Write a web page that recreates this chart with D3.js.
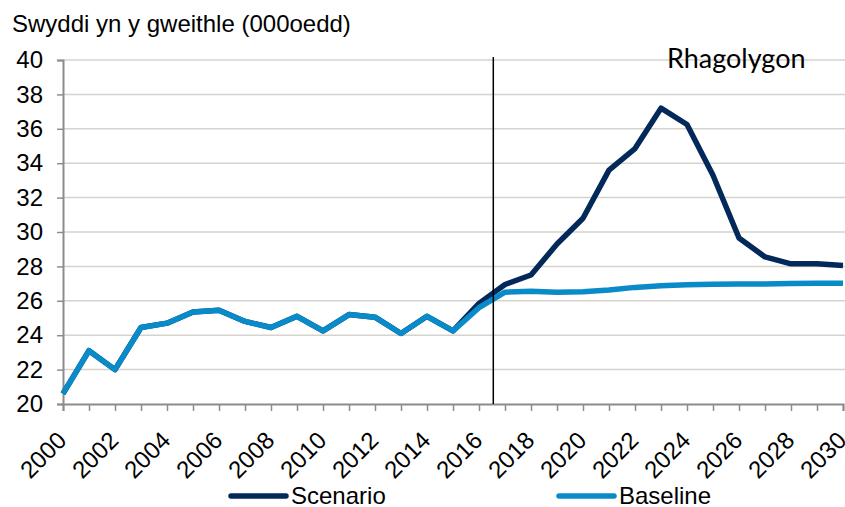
<!DOCTYPE html>
<html>
<head>
<meta charset="utf-8">
<script src="https://cdn.jsdelivr.net/npm/d3@7"></script>
<style>
  body { margin: 0; background: #fff; }
  svg { display: block; font-family: "Liberation Sans", Arial, sans-serif; }
</style>
</head>
<body>
<div id="chart"></div>
<script>
// Data (thousands of jobs)
const years = d3.range(2000, 2031);
const scenario = [20.6, 23.1, 22.0, 24.45, 24.7, 25.35, 25.45, 24.8, 24.45, 25.1,
  24.25, 25.2, 25.05, 24.1, 25.1, 24.25, 25.85, 26.95, 27.5, 29.3,
  30.8, 33.6, 34.85, 37.2, 36.25, 33.3, 29.65, 28.55, 28.15, 28.15, 28.05];
const baseline = [20.6, 23.1, 22.0, 24.45, 24.7, 25.35, 25.45, 24.8, 24.45, 25.1,
  24.25, 25.2, 25.05, 24.1, 25.1, 24.25, 25.6, 26.5, 26.55, 26.5,
  26.53, 26.63, 26.78, 26.88, 26.94, 26.96, 26.97, 26.98, 27.0, 27.02, 27.02];
const yTicks = [20, 22, 24, 26, 28, 30, 32, 34, 36, 38, 40];
const xTickLabels = d3.range(2000, 2031, 2);
const forecastStart = 2016.55;

const COLORS = { scenario: '#03295a', baseline: '#0a8bc9', grid: '#d6d3ce', axis: '#8c8c8c' };
const MARGIN = { top: 60, right: 2, bottom: 103, left: 63 };
const width = 845, height = 507;
const innerW = width - MARGIN.left - MARGIN.right;
const innerH = height - MARGIN.top - MARGIN.bottom;

const svg = d3.select('#chart').append('svg')
  .attr('width', width)
  .attr('height', height);

const g = svg.append('g')
  .attr('transform', `translate(${MARGIN.left},${MARGIN.top})`);

const x = d3.scaleLinear().domain([2000, 2030]).range([0, innerW]);
const y = d3.scaleLinear().domain([20, 40]).range([innerH, 0]);

// gridlines
g.append('g')
  .selectAll('line')
  .data(yTicks.filter(d => d > 20))
  .join('line')
  .attr('x1', 0).attr('x2', innerW + MARGIN.right)
  .attr('y1', d => y(d)).attr('y2', d => y(d))
  .attr('stroke', COLORS.grid)
  .attr('stroke-width', 1.5);

// y axis
const yAxis = g.append('g')
  .call(d3.axisLeft(y).tickValues(yTicks).tickSize(6).tickPadding(14));
yAxis.select('.domain').attr('stroke', COLORS.axis).attr('stroke-width', 2);
yAxis.selectAll('.tick line').attr('stroke', COLORS.axis).attr('stroke-width', 1.5);
yAxis.selectAll('text')
  .style('font-size', '24px')
  .style('fill', '#000');

// x axis
const xAxis = g.append('g')
  .attr('transform', `translate(0,${innerH})`)
  .call(d3.axisBottom(x).tickValues(years).tickSize(7).tickFormat(''));
xAxis.select('.domain').attr('stroke', COLORS.axis).attr('stroke-width', 2);
xAxis.selectAll('.tick line').attr('stroke', COLORS.axis).attr('stroke-width', 1.5);

g.append('g')
  .selectAll('text')
  .data(xTickLabels)
  .join('text')
  .attr('transform', d => `translate(${x(d) - 7},${innerH + 26}) rotate(-45)`)
  .attr('text-anchor', 'end')
  .attr('dy', '0.7em')
  .style('font-size', '24px')
  .style('fill', '#000')
  .text(d => d);

// lines
const line = d3.line()
  .x((d, i) => x(years[i]))
  .y(d => y(d));

g.append('path')
  .datum(scenario)
  .attr('fill', 'none')
  .attr('stroke', COLORS.scenario)
  .attr('stroke-width', 5.5)
  .attr('stroke-linejoin', 'round')
  .attr('d', line);

g.append('path')
  .datum(baseline)
  .attr('fill', 'none')
  .attr('stroke', COLORS.baseline)
  .attr('stroke-width', 5.5)
  .attr('stroke-linejoin', 'round')
  .attr('d', line);

// forecast divider
g.append('line')
  .attr('x1', x(forecastStart)).attr('x2', x(forecastStart))
  .attr('y1', -3).attr('y2', innerH)
  .attr('stroke', '#000')
  .attr('stroke-width', 1.5);

g.append('text')
  .attr('x', 604)
  .attr('y', 8)
  .style('font-family', 'Lato, "Open Sans", sans-serif')
  .style('font-size', '27px')
  .style('fill', '#000')
  .text('Rhagolygon');

// title
svg.append('text')
  .attr('x', 12)
  .attr('y', 32)
  .style('font-size', '24px')
  .style('fill', '#000')
  .text('Swyddi yn y gweithle (000oedd)');

// legend
const legendData = [
  { label: 'Scenario', color: COLORS.scenario, x: 231 },
  { label: 'Baseline', color: COLORS.baseline, x: 559 }
];
const legend = svg.append('g');
legendData.forEach(item => {
  const lg = legend.append('g').attr('transform', `translate(${item.x},496)`);
  lg.append('line')
    .attr('x1', 0).attr('x2', 55)
    .attr('stroke', item.color)
    .attr('stroke-width', 5.5)
    .attr('stroke-linecap', 'round');
  lg.append('text')
    .attr('x', 60).attr('y', 8)
    .style('font-size', '24px')
    .style('fill', '#000')
    .text(item.label);
});
</script>
</body>
</html>
